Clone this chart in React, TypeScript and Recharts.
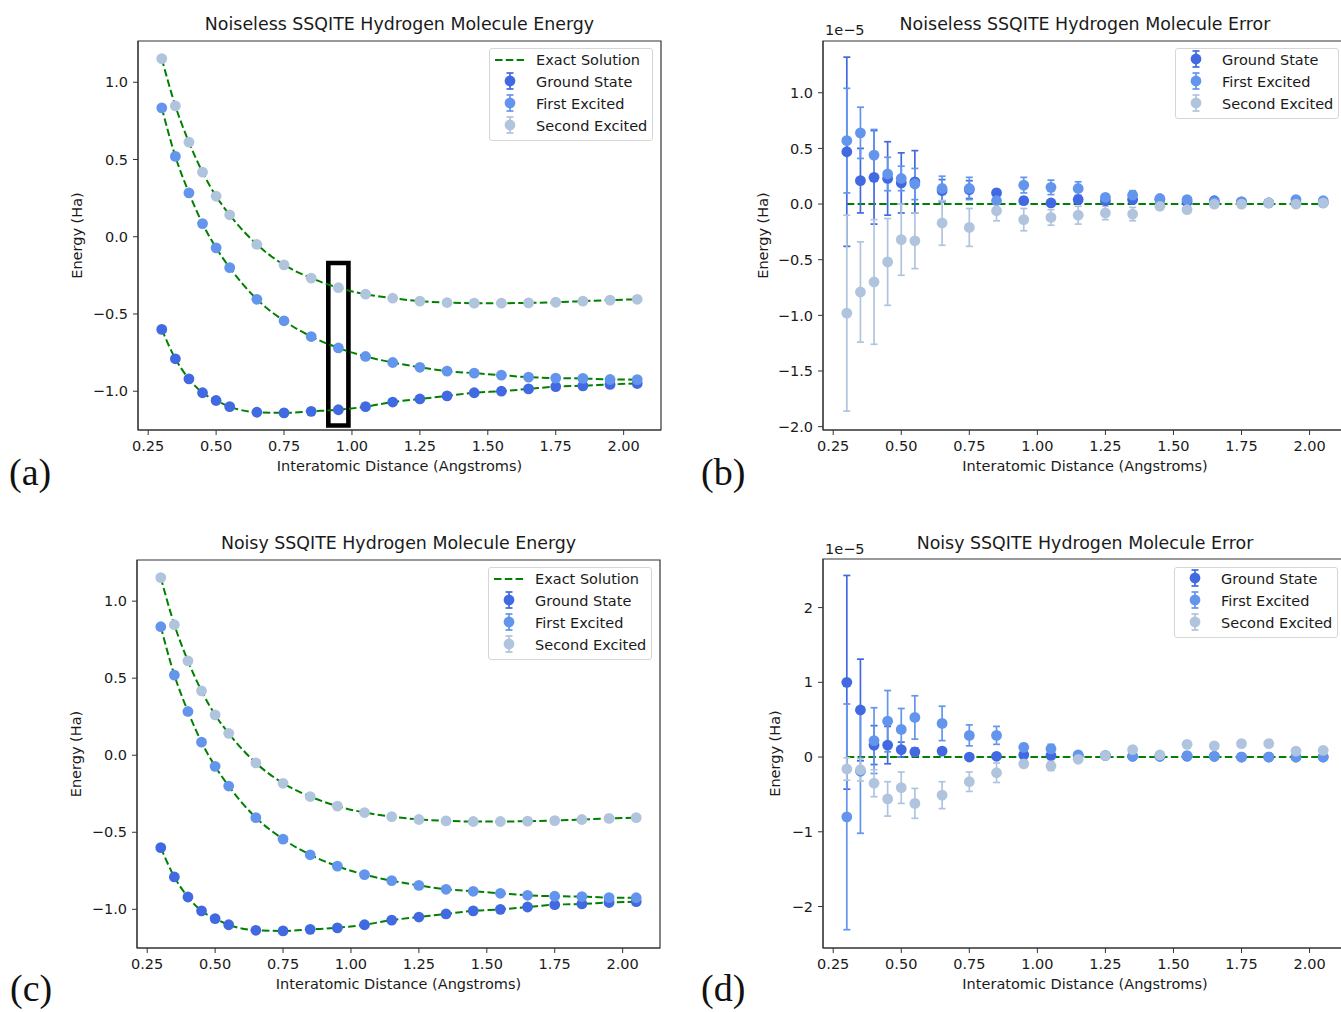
import React from "react"
import { ComposedChart, Scatter, Line, XAxis, YAxis, ErrorBar, ReferenceArea, ReferenceLine } from "recharts"

// interatomic distances (Angstroms)
const distances = [0.3, 0.35, 0.4, 0.45, 0.5, 0.55, 0.65, 0.75, 0.85, 0.95, 1.05, 1.15, 1.25, 1.35, 1.45, 1.55, 1.65, 1.75, 1.85, 1.95, 2.05]

// energies (Ha)
const groundEnergy = [-0.6, -0.79, -0.92, -1.01, -1.06, -1.1, -1.136, -1.14, -1.13, -1.12, -1.1, -1.07, -1.05, -1.03, -1.01, -1.0, -0.985, -0.97, -0.965, -0.956, -0.95]
const firstEnergy = [0.834, 0.52, 0.284, 0.085, -0.072, -0.2, -0.405, -0.544, -0.646, -0.72, -0.775, -0.814, -0.845, -0.87, -0.883, -0.896, -0.909, -0.915, -0.917, -0.924, -0.925]
const secondEnergy = [1.153, 0.847, 0.612, 0.418, 0.262, 0.142, -0.05, -0.182, -0.268, -0.33, -0.372, -0.398, -0.417, -0.426, -0.43, -0.43, -0.428, -0.424, -0.417, -0.41, -0.405]

// highlighted box around the 0.95 Angstrom points (x range, energy range)
const highlightX = [0.913, 0.987]
const highlightY = [-1.222, -0.17]

// noiseless errors, in units of 1e-5 Ha
const noiselessGround = [0.47, 0.21, 0.24, 0.23, 0.19, 0.2, 0.12, 0.13, 0.1, 0.03, 0.01, 0.04, 0.03, 0.04, 0.04, 0.02, 0.03, 0.02, 0.01, 0.01, 0.01]
const noiselessGroundErr = [0.85, 0.29, 0.42, 0.33, 0.27, 0.28, 0.1, 0.08, 0.03, 0.03, 0.02, 0.03, 0.02, 0.02, 0.02, 0.01, 0.01, 0.01, 0.01, 0.01, 0.01]
const noiselessFirst = [0.57, 0.64, 0.44, 0.27, 0.23, 0.18, 0.14, 0.14, 0.03, 0.17, 0.15, 0.14, 0.06, 0.08, 0.05, 0.04, 0.02, 0.02, 0.01, 0.04, 0.03]
const noiselessFirstErr = [0.47, 0.23, 0.23, 0.15, 0.11, 0.14, 0.11, 0.1, 0.03, 0.07, 0.065, 0.06, 0.03, 0.04, 0.02, 0.02, 0.01, 0.01, 0.01, 0.01, 0.01]
const noiselessSecond = [-0.98, -0.79, -0.7, -0.52, -0.32, -0.33, -0.17, -0.21, -0.06, -0.14, -0.12, -0.1, -0.08, -0.09, -0.02, -0.05, 0.0, 0.0, 0.01, 0.0, 0.01]
const noiselessSecondErr = [0.88, 0.45, 0.56, 0.39, 0.32, 0.25, 0.2, 0.17, 0.09, 0.1, 0.07, 0.08, 0.06, 0.06, 0.03, 0.02, 0.02, 0.01, 0.01, 0.01, 0.01]

// noisy errors, in units of 1e-5 Ha
const noisyGround = [1.0, 0.63, 0.16, 0.16, 0.1, 0.07, 0.08, 0.0, 0.01, 0.03, 0.02, 0.02, 0.02, 0.01, 0.01, 0.01, 0.01, 0.0, 0.0, 0.0, 0.0]
const noisyGroundErr = [1.43, 0.68, 0.26, 0.25, 0.1, 0.05, 0.04, 0.02, 0.02, 0.03, 0.03, 0.02, 0.02, 0.01, 0.01, 0.01, 0.01, 0.01, 0.01, 0.01, 0.01]
const noisyFirst = [-0.8, -0.19, 0.22, 0.48, 0.37, 0.53, 0.45, 0.29, 0.29, 0.13, 0.11, 0.03, 0.02, 0.01, 0.01, 0.02, 0.01, 0.0, 0.0, 0.0, 0.0]
const noisyFirstErr = [1.51, 0.83, 0.44, 0.41, 0.28, 0.29, 0.23, 0.14, 0.12, 0.05, 0.06, 0.02, 0.02, 0.01, 0.01, 0.01, 0.01, 0.01, 0.01, 0.01, 0.01]
const noisySecond = [-0.16, -0.17, -0.35, -0.56, -0.41, -0.62, -0.51, -0.33, -0.21, -0.09, -0.12, -0.03, 0.02, 0.1, 0.03, 0.17, 0.15, 0.18, 0.18, 0.08, 0.09]
const noisySecondErr = [0.15, 0.15, 0.18, 0.23, 0.21, 0.2, 0.18, 0.13, 0.13, 0.05, 0.06, 0.02, 0.02, 0.03, 0.02, 0.02, 0.02, 0.02, 0.02, 0.02, 0.02]

const xTicks = [0.25, 0.5, 0.75, 1.0, 1.25, 1.5, 1.75, 2.0]
const energyTicks = [-1.0, -0.5, 0.0, 0.5, 1.0]
const noiselessErrTicks = [-2.0, -1.5, -1.0, -0.5, 0.0, 0.5, 1.0]
const noisyErrTicks = [-2, -1, 0, 1, 2]

const seriesNames = ["Ground State", "First Excited", "Second Excited"]
const seriesColors = ["#4169E1", "#6495ED", "#B0C4DE"]

const GREEN = "#008000"
const TEXT = "#1a1a1a"
const AXIS = "#333"
const FONT = '"DejaVu Sans", sans-serif'
const FS = 14.5
const DASH = "7.5 3.3"
const xDomain: [number, number] = [0.2125, 2.1375]

const minus = (s: string) => s.replace("-", "\u2212")

type Margin = { top: number; right: number; bottom: number; left: number }
type Series = { values: number[]; errs?: number[] }

interface PanelProps {
  left: number
  top: number
  margin: Margin
  yDomain: [number, number]
  yTicks: number[]
  yDigits: number
  yLabelOffset: number
  series: Series[]
  exactLines?: boolean
  zeroLine?: boolean
  highlight?: boolean
}

function Panel(p: PanelProps) {
  const rows = distances.map((x, i) => {
    const r: Record<string, number> = { x }
    p.series.forEach((s, k) => {
      r["s" + k] = s.values[i]
    })
    return r
  })
  const tickStyle = { fill: TEXT, fontSize: FS, fontFamily: FONT }

  return (
    <div style={{ position: "absolute", left: p.left, top: p.top }}>
      <ComposedChart width={700} height={500} data={rows} margin={p.margin}>
        <XAxis
          type="number"
          dataKey="x"
          domain={xDomain}
          ticks={xTicks}
          allowDataOverflow
          height={50}
          tickSize={5}
          tickMargin={6}
          stroke={AXIS}
          tick={tickStyle}
          tickFormatter={(v) => v.toFixed(2)}
          label={{ value: "Interatomic Distance (Angstroms)", position: "insideBottom", offset: 9, fill: TEXT, fontSize: FS, fontFamily: FONT }}
        />
        <YAxis
          type="number"
          domain={p.yDomain}
          ticks={p.yTicks}
          allowDataOverflow
          width={70}
          tickSize={5}
          tickMargin={5}
          stroke={AXIS}
          tick={tickStyle}
          tickFormatter={(v) => minus(v.toFixed(p.yDigits))}
          label={{ value: "Energy (Ha)", angle: -90, position: "insideLeft", offset: p.yLabelOffset, style: { textAnchor: "middle" }, fill: TEXT, fontSize: FS, fontFamily: FONT }}
        />
        <ReferenceArea x1={xDomain[0]} x2={xDomain[1]} y1={p.yDomain[0]} y2={p.yDomain[1]} fill="none" stroke={AXIS} strokeWidth={1.2} />
        {p.exactLines &&
          p.series.map((_, k) => (
            <Line key={"l" + k} dataKey={"s" + k} type="monotone" stroke={GREEN} strokeWidth={2} strokeDasharray={DASH} dot={false} isAnimationActive={false} />
          ))}
        {p.zeroLine && (
          <ReferenceLine
            segment={[
              { x: distances[0], y: 0 },
              { x: distances[distances.length - 1], y: 0 },
            ]}
            stroke={GREEN}
            strokeWidth={2}
            strokeDasharray={DASH}
          />
        )}
        {p.series.map((s, k) => {
          const color = seriesColors[k]
          const pts = distances.map((x, i) => ({ x, y: s.values[i], err: s.errs ? s.errs[i] : 0 }))
          return (
            <Scatter
              key={"p" + k}
              name={seriesNames[k]}
              data={pts}
              dataKey="y"
              fill={color}
              isAnimationActive={false}
              shape={(props: any) => <circle cx={props.cx} cy={props.cy} r={5.4} fill={color} />}
            >
              {s.errs && <ErrorBar dataKey="err" direction="y" width={3.5} strokeWidth={1.7} stroke={color} />}
            </Scatter>
          )
        })}
        {p.highlight && (
          <ReferenceArea x1={highlightX[0]} x2={highlightX[1]} y1={highlightY[0]} y2={highlightY[1]} fill="none" stroke="#000" strokeWidth={4.6} />
        )}
      </ComposedChart>
    </div>
  )
}

function ErrIcon({ color }: { color: string }) {
  return (
    <svg width={40} height={22}>
      <line x1={20} x2={20} y1={3} y2={19} stroke={color} strokeWidth={1.7} />
      <line x1={16.5} x2={23.5} y1={3} y2={3} stroke={color} strokeWidth={1.7} />
      <line x1={16.5} x2={23.5} y1={19} y2={19} stroke={color} strokeWidth={1.7} />
      <circle cx={20} cy={11} r={5.4} fill={color} />
    </svg>
  )
}

function LegendBox({ left, top, exact }: { left: number; top: number; exact: boolean }) {
  const row = { display: "flex", alignItems: "center", height: 22 }
  return (
    <div
      style={{
        position: "absolute",
        left,
        top,
        width: 164,
        boxSizing: "border-box",
        padding: "0 0 3px 0",
        border: "1px solid #d6d6d6",
        borderRadius: 3,
        background: "rgba(255,255,255,0.85)",
        fontFamily: FONT,
        fontSize: FS,
        color: TEXT,
        whiteSpace: "nowrap",
      }}
    >
      {exact && (
        <div style={row}>
          <svg width={46} height={22}>
            <line x1={5} x2={35} y1={11} y2={11} stroke={GREEN} strokeWidth={2} strokeDasharray={DASH} />
          </svg>
          <span>Exact Solution</span>
        </div>
      )}
      {seriesNames.map((n, k) => (
        <div key={n} style={row}>
          <div style={{ width: 46 }}>
            <ErrIcon color={seriesColors[k]} />
          </div>
          <span>{n}</span>
        </div>
      ))}
    </div>
  )
}

export default function App() {
  const energySeries: Series[] = [{ values: groundEnergy }, { values: firstEnergy }, { values: secondEnergy }]
  const energyDomain: [number, number] = [-1.251, 1.267]

  return (
    <div style={{ position: "absolute", left: 0, top: 0, width: 1341, height: 1012, overflow: "hidden", background: "#fff" }}>
      <Panel
        left={0}
        top={0}
        margin={{ top: 41, right: 39, bottom: 20, left: 68 }}
        yDomain={energyDomain}
        yTicks={energyTicks}
        yDigits={1}
        yLabelOffset={9}
        series={energySeries}
        exactLines
        highlight
      />
      <Panel
        left={680}
        top={0}
        margin={{ top: 41, right: 33, bottom: 20, left: 73 }}
        yDomain={[-2.03, 1.465]}
        yTicks={noiselessErrTicks}
        yDigits={1}
        yLabelOffset={10}
        series={[
          { values: noiselessGround, errs: noiselessGroundErr },
          { values: noiselessFirst, errs: noiselessFirstErr },
          { values: noiselessSecond, errs: noiselessSecondErr },
        ]}
        zeroLine
      />
      <Panel
        left={0}
        top={519}
        margin={{ top: 41, right: 40, bottom: 21, left: 67 }}
        yDomain={energyDomain}
        yTicks={energyTicks}
        yDigits={1}
        yLabelOffset={9}
        series={energySeries}
        exactLines
      />
      <Panel
        left={680}
        top={519}
        margin={{ top: 40, right: 33, bottom: 21, left: 73 }}
        yDomain={[-2.555, 2.65]}
        yTicks={noisyErrTicks}
        yDigits={0}
        yLabelOffset={22}
        series={[
          { values: noisyGround, errs: noisyGroundErr },
          { values: noisyFirst, errs: noisyFirstErr },
          { values: noisySecond, errs: noisySecondErr },
        ]}
        zeroLine
      />

      <svg width={1341} height={1012} style={{ position: "absolute", left: 0, top: 0, pointerEvents: "none" }}>
        <g fontFamily={FONT} fill={TEXT} fontSize={17.4} textAnchor="middle" dominantBaseline="central">
          <text x={399.5} y={24}>Noiseless SSQITE Hydrogen Molecule Energy</text>
          <text x={1085} y={24}>Noiseless SSQITE Hydrogen Molecule Error</text>
          <text x={398.5} y={543}>Noisy SSQITE Hydrogen Molecule Energy</text>
          <text x={1085} y={543}>Noisy SSQITE Hydrogen Molecule Error</text>
        </g>
        <g fontFamily={FONT} fill={TEXT} fontSize={FS} dominantBaseline="central">
          <text x={825} y={30}>1e{"\u2212"}5</text>
          <text x={825} y={549}>1e{"\u2212"}5</text>
        </g>
        <g fontFamily='"Liberation Serif", serif' fill="#111" fontSize={38}>
          <text x={9} y={485}>(a)</text>
          <text x={701} y={485}>(b)</text>
          <text x={10} y={1001}>(c)</text>
          <text x={701} y={1001}>(d)</text>
        </g>
      </svg>

      <LegendBox left={489} top={48} exact />
      <LegendBox left={1175} top={48} exact={false} />
      <LegendBox left={488} top={567} exact />
      <LegendBox left={1174} top={567} exact={false} />
    </div>
  )
}
